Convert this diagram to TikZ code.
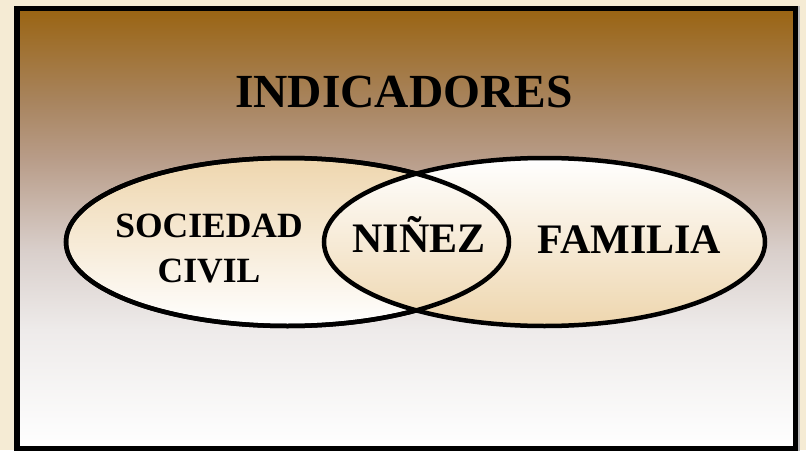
\documentclass[tikz,border=0pt]{standalone}
\usepackage{fontspec}
\setmainfont{Liberation Serif}
\usetikzlibrary{shapes.geometric}
\definecolor{cream}{HTML}{F5EBD4}
\definecolor{brownA}{HTML}{9A6412}
\definecolor{brownB}{HTML}{A8845E}
\definecolor{brownC}{HTML}{B89C88}
\definecolor{greyA}{HTML}{D9CFCB}
\definecolor{greyB}{HTML}{EEEBEA}
\definecolor{tan}{HTML}{EED6AE}
\pgfdeclareverticalshading{bgshade}{100bp}{
  color(0bp)=(white);
  color(25bp)=(white);
  color(38.5bp)=(greyB);
  color(47.5bp)=(greyA);
  color(58bp)=(brownC);
  color(64.5bp)=(brownB);
  color(75bp)=(brownA);
  color(100bp)=(brownA)}
\tikzset{
  ell/.style={line width=4.5pt, draw=black},
  lbl/.style={font=\bfseries, text=black, inner sep=0pt, align=center}
}
\begin{document}
\begin{tikzpicture}[x=1pt,y=-1pt]
\useasboundingbox (0,0) rectangle (806,450);
\fill[cream] (0,0) rectangle (806,450);
% shadow
\fill[gray!55] (796,6) rectangle (800,452);
% frame
\path[shading=bgshade] (17,8.5) rectangle (795.5,449);
\draw[line width=5.5pt] (17,8.5) rectangle (795.5,449);
% ellipses
\path[ell, top color=tan, bottom color=white] (287.5,242) ellipse [x radius=221.5, y radius=84];
\path[ell, top color=white, bottom color=tan] (544.5,242) ellipse [x radius=220.5, y radius=84];
\draw[line width=4.5pt] (287.5,242) ellipse [x radius=221.5, y radius=84];
% labels
\node[lbl, font=\fontsize{47.5}{50}\selectfont\bfseries, anchor=base] (title) at (404,107) {INDICADORES};
\node[lbl, font=\fontsize{35.5}{45}\selectfont\bfseries, anchor=base] (soc) at (209,282) {SOCIEDAD\\CIVIL};
\node[lbl, font=\fontsize{42}{45}\selectfont\bfseries, anchor=base] (nin) at (419,252) {NIÑEZ};
\node[lbl, font=\fontsize{42}{45}\selectfont\bfseries, anchor=base] (fam) at (629.5,253) {FAMILIA};
\end{tikzpicture}
\end{document}
